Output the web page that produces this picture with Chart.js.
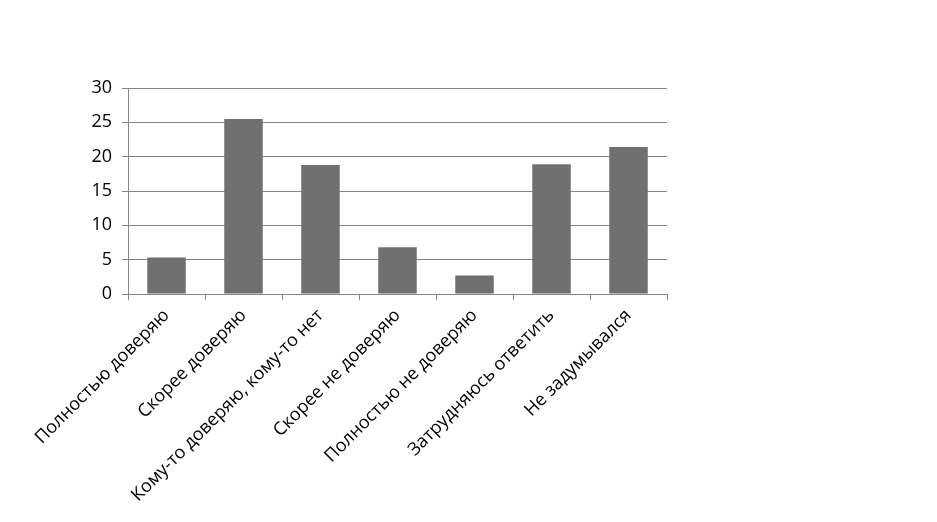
<!DOCTYPE html>
<html>
<head>
<meta charset="utf-8">
<script src="https://cdn.jsdelivr.net/npm/chart.js"></script>
<style>
  html, body { margin: 0; padding: 0; background: #fff; }
  #wrap { width: 937px; height: 522px; position: relative; }
</style>
</head>
<body>
<div id="wrap"><canvas id="chart"></canvas></div>
<script>
// Категории и значения (проценты)
const categories = [
  'Полностью доверяю',
  'Скорее доверяю',
  'Кому-то доверяю, кому-то нет',
  'Скорее не доверяю',
  'Полностью не доверяю',
  'Затрудняюсь ответить',
  'Не задумывался'
];
const values = [5.3, 25.5, 18.8, 6.8, 2.7, 18.9, 21.4];
const yTicks = [0, 5, 10, 15, 20, 25, 30];

const FONT = "'Open Sans', 'DejaVu Sans', sans-serif";

new Chart(document.getElementById('chart'), {
  type: 'bar',
  data: {
    labels: categories,
    datasets: [{
      data: values,
      backgroundColor: '#707070',
      categoryPercentage: 1,
      barPercentage: 0.5
    }]
  },
  options: {
    responsive: true,
    maintainAspectRatio: false,
    animation: false,
    layout: { padding: { left: 0, right: 270, top: 88, bottom: 0 } },
    plugins: { legend: { display: false }, tooltip: { enabled: false } },
    scales: {
      x: {
        offset: true,
        grid: { display: true, drawOnChartArea: false, color: '#868686', tickLength: 6, offset: true },
        border: { color: '#868686', width: 1 },
        ticks: {
          color: '#000',
          font: { family: FONT, size: 18 },
          minRotation: 45,
          maxRotation: 45,
          autoSkip: false,
          padding: 5
        },
        afterFit(scale) { scale.height = 522 - 294; }
      },
      y: {
        min: 0,
        max: 30,
        afterBuildTicks(scale) { scale.ticks = yTicks.map(v => ({ value: v })); },
        grid: { color: '#868686', tickLength: 6 },
        border: { color: '#868686', width: 1 },
        ticks: {
          color: '#000',
          font: { family: FONT, size: 18 },
          padding: 10
        },
        afterFit(scale) { scale.width = 128; }
      }
    }
  }
});
</script>
</body>
</html>
